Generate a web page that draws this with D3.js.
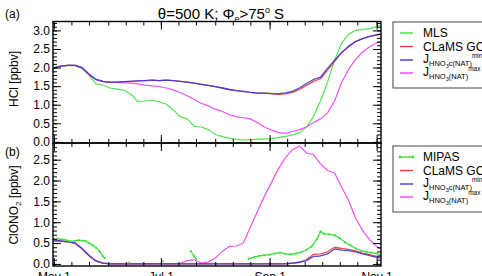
<!DOCTYPE html>
<html>
<head>
<meta charset="utf-8">
<script src="https://cdn.jsdelivr.net/npm/d3@7"></script>
<style>
  body { margin: 0; background: #fff; }
  svg { font-family: "Liberation Sans", Arial, sans-serif; }
</style>
</head>
<body>
<div id="chart"></div>
<script>
// days after May 1 for the model / MLS curves
const days = [0,4,8,12,16,20,24,28,32,36,40,44,48,52,56,60,64,68,72,76,80,84,88,92,
  96,100,104,108,112,116,120,124,128,132,136,140,144,148,152,156,160,164,168,172,176,180,184,186];

// panel (a) HCl [ppbv]
const hclMLS = [1.99,2.04,2.06,2.05,1.98,1.80,1.56,1.53,1.45,1.42,1.39,1.28,1.08,1.10,1.12,1.08,1.02,0.86,0.68,0.62,
  0.42,0.40,0.33,0.20,0.14,0.10,0.07,0.05,0.06,0.07,0.08,0.09,0.12,0.15,0.19,0.25,0.40,0.68,1.10,1.60,
  2.20,2.65,2.90,3.00,3.03,3.05,3.10,3.15];
const hclClams = [1.99,2.04,2.06,2.06,2.00,1.82,1.68,1.63,1.60,1.61,1.62,1.63,1.64,1.65,1.66,1.65,1.66,1.65,1.63,1.61,
  1.58,1.55,1.52,1.49,1.45,1.41,1.38,1.36,1.33,1.31,1.31,1.30,1.28,1.29,1.33,1.41,1.52,1.63,1.70,1.93,
  2.16,2.40,2.57,2.70,2.78,2.84,2.88,2.90];
const hclJmin = [1.99,2.04,2.06,2.06,2.00,1.82,1.68,1.63,1.60,1.61,1.62,1.63,1.64,1.65,1.66,1.65,1.66,1.65,1.63,1.61,
  1.58,1.55,1.52,1.49,1.45,1.41,1.38,1.36,1.33,1.31,1.31,1.30,1.30,1.32,1.36,1.45,1.57,1.68,1.74,1.98,
  2.20,2.40,2.57,2.70,2.78,2.84,2.88,2.90];
const hclJmax = [1.99,2.04,2.06,2.06,2.00,1.82,1.68,1.62,1.60,1.60,1.59,1.58,1.56,1.53,1.51,1.49,1.45,1.40,1.33,1.24,
  1.14,1.04,0.97,0.88,0.82,0.73,0.68,0.65,0.62,0.52,0.40,0.32,0.25,0.23,0.28,0.33,0.40,0.52,0.62,0.78,
  1.10,1.60,1.95,2.22,2.42,2.56,2.66,2.70];

// panel (b) ClONO2 [ppbv]
const clClams = [0.56,0.55,0.53,0.50,0.37,0.20,0.07,0.02,0,0,0,0,0,0,0,0,0,0,0,0,
  0,0,0,0,0,0,0,0,0,0,0,0,0,0,0.02,0.04,0.10,0.23,0.24,0.29,
  0.40,0.37,0.35,0.31,0.26,0.22,0.18,0.16];
const clJmin = [0.56,0.55,0.53,0.50,0.37,0.20,0.07,0.02,0,0,0,0,0,0,0,0,0,0,0,0,
  0,0,0,0,0,0,0,0,0,0,0,0,0,0,0.02,0.04,0.08,0.18,0.19,0.24,
  0.36,0.33,0.32,0.29,0.24,0.20,0.16,0.14];
const clJmax = [0.56,0.55,0.53,0.50,0.37,0.20,0.07,0.02,0,0,0,0,0,0,0,0.01,0,0,0.01,0.08,
  0.10,0.02,0.05,0.14,0.30,0.42,0.43,0.50,0.88,1.25,1.62,1.95,2.28,2.55,2.74,2.83,2.66,2.62,2.40,2.24,
  2.18,1.85,1.52,1.10,0.80,0.58,0.42,0.36];

// MIPAS, null = no data
const mipasDays = [0,2,4,6,8,10,12,14,16,18,20,22,24,26,28,29, 36, 43, 50, 62, 70, 78,80,81, 95,
  111,114,117,120,123,126,129,132,135,138,141,144,147,150,152,154,157,160,163,166,169,172,175,178,181,184,186];
const mipasVals = [0.59,0.60,0.59,0.58,0.56,0.54,0.55,0.57,0.56,0.55,0.50,0.45,0.39,0.30,0.18,0.14, null, 0.03, null, 0.06, null, 0.31,0.18,0.12, null,
  0.12,0.16,0.19,0.21,0.22,0.25,0.27,0.24,0.23,0.25,0.28,0.34,0.42,0.60,0.78,0.72,0.71,0.69,0.62,0.52,0.45,0.37,0.32,0.29,0.27,0.25,0.22];

const xTickLabels = ['May 1', 'Jul 1', 'Sep 1', 'Nov 1'];

const GREEN = '#3ee03e', RED = '#ee3a3a', BLUE = '#3b3bd0', MAGENTA = '#f03cf0';

const svg = d3.select('#chart').append('svg')
  .attr('width', 482).attr('height', 276);

const may1 = new Date(2009, 4, 1);
const toDate = d => d3.timeHour.offset(may1, d * 24);

const x = d3.scaleTime()
  .domain([toDate(-0.5), toDate(186.5)])
  .range([53, 381]);

const ya = d3.scaleLinear().domain([-0.03, 3.24]).range([143, 21.5]);
const yb = d3.scaleLinear().domain([-0.05, 2.9]).range([266, 143]);

// clip paths
const defs = svg.append('defs');
[['clipA', ya], ['clipB', yb]].forEach(([id, y]) => {
  defs.append('clipPath').attr('id', id).append('rect')
    .attr('x', 53).attr('y', y.range()[1])
    .attr('width', 328).attr('height', y.range()[0] - y.range()[1]);
});

function drawSeries(y, clip, vals, color, width) {
  const pts = days.map((d, i) => ({ d: d, v: vals[i] }));
  svg.append('path')
    .datum(pts)
    .attr('clip-path', `url(#${clip})`)
    .attr('fill', 'none')
    .attr('stroke', color)
    .attr('stroke-width', width)
    .attr('stroke-linejoin', 'round')
    .attr('stroke-opacity', 0.9)
    .attr('d', d3.line().x(p => x(toDate(p.d))).y(p => y(p.v)));
}

// month ticks: 1, 11, 21 of each month
const minorDates = [];
for (let m = 4; m <= 10; m++) {
  [1, 11, 21].forEach(dd => {
    const t = new Date(2009, m, dd);
    if (t >= x.domain()[0] && t <= x.domain()[1]) minorDates.push(t);
  });
}
const majorDates = [new Date(2009, 4, 1), new Date(2009, 6, 1), new Date(2009, 8, 1), new Date(2009, 10, 1)];

function drawFrame(y, majorVals, showXLabels) {
  const top = y.range()[1], bot = y.range()[0];
  const g = svg.append('g');
  const minorVals = d3.range(0, d3.max(majorVals) + 0.35, 0.1).filter(v => v <= y.domain()[1]);

  // y axis left
  g.append('g').attr('transform', 'translate(53,0)')
    .call(d3.axisLeft(y).tickValues(minorVals).tickSize(-4).tickFormat(''))
    .call(a => a.select('.domain').remove());
  g.append('g').attr('transform', 'translate(53,0)')
    .call(d3.axisLeft(y).tickValues(majorVals).tickSize(-8).tickPadding(3).tickFormat(d3.format('.1f')))
    .call(a => a.select('.domain').remove())
    .call(a => a.selectAll('text').attr('font-size', 12).attr('font-family', '"Liberation Sans", Arial, sans-serif').attr('fill', '#000'));
  // y axis right
  g.append('g').attr('transform', 'translate(381,0)')
    .call(d3.axisRight(y).tickValues(minorVals).tickSize(-4).tickFormat(''))
    .call(a => a.select('.domain').remove());
  g.append('g').attr('transform', 'translate(381,0)')
    .call(d3.axisRight(y).tickValues(majorVals).tickSize(-8).tickFormat(''))
    .call(a => a.select('.domain').remove());
  // x axis bottom / top
  [[bot, d3.axisBottom], [top, d3.axisTop]].forEach(([yy, ax]) => {
    g.append('g').attr('transform', `translate(0,${yy})`)
      .call(ax(x).tickValues(minorDates).tickSize(-4).tickFormat(''))
      .call(a => a.select('.domain').remove());
    g.append('g').attr('transform', `translate(0,${yy})`)
      .call(ax(x).tickValues(majorDates).tickSize(-8).tickFormat(''))
      .call(a => a.select('.domain').remove());
  });
  if (showXLabels) {
    g.append('g').attr('transform', `translate(0,${bot})`)
      .call(d3.axisBottom(x).tickValues(majorDates).tickSize(0).tickPadding(6)
        .tickFormat((d, i) => xTickLabels[i]))
      .call(a => a.select('.domain').remove())
      .call(a => a.selectAll('text').attr('font-size', 12).attr('font-family', '"Liberation Sans", Arial, sans-serif').attr('fill', '#000'));
  }
  g.selectAll('.tick line').attr('stroke', '#000').attr('stroke-width', 1);
  g.append('rect')
    .attr('x', 53).attr('y', top).attr('width', 328).attr('height', bot - top)
    .attr('fill', 'none').attr('stroke', '#000').attr('stroke-width', 1.4);
}

// panel (a)
drawSeries(ya, 'clipA', hclMLS, GREEN, 1.2);
drawSeries(ya, 'clipA', hclClams, RED, 1.3);
drawSeries(ya, 'clipA', hclJmax, MAGENTA, 1.2);
drawSeries(ya, 'clipA', hclJmin, BLUE, 1.3);

// panel (b)
drawSeries(yb, 'clipB', clJmax, MAGENTA, 1.2);
drawSeries(yb, 'clipB', clClams, RED, 1.3);
drawSeries(yb, 'clipB', clJmin, BLUE, 1.3);

const mipas = mipasDays.map((d, i) => ({ d: d, v: mipasVals[i] }));
svg.append('path')
  .datum(mipas)
  .attr('clip-path', 'url(#clipB)')
  .attr('fill', 'none').attr('stroke', GREEN).attr('stroke-width', 1.3)
  .attr('d', d3.line().defined(p => p.v !== null).x(p => x(toDate(p.d))).y(p => yb(p.v)));
svg.append('g').attr('clip-path', 'url(#clipB)')
  .selectAll('circle').data(mipas.filter(p => p.v !== null)).join('circle')
  .attr('cx', p => x(toDate(p.d))).attr('cy', p => yb(p.v))
  .attr('r', 1.1).attr('fill', GREEN);

drawFrame(ya, [0, 0.5, 1, 1.5, 2, 2.5, 3], false);
drawFrame(yb, [0, 0.5, 1, 1.5, 2, 2.5], true);

// titles
const title = svg.append('text').attr('x', 221).attr('y', 19)
  .attr('text-anchor', 'middle').attr('font-size', 15);
title.append('tspan').text('θ=500 K; Φ');
title.append('tspan').attr('font-size', 9).attr('dy', 3).text('e');
title.append('tspan').attr('dy', -3).text('>75');
title.append('tspan').attr('font-size', 9).attr('dy', -6).text('o');
title.append('tspan').attr('dy', 6).text(' S');

svg.append('text').attr('x', 5).attr('y', 18).attr('font-size', 12).text('(a)');
svg.append('text').attr('x', 5).attr('y', 156).attr('font-size', 12).text('(b)');

svg.append('text').attr('transform', 'translate(18,79) rotate(-90)')
  .attr('text-anchor', 'middle').attr('font-size', 12).text('HCl [ppbv]');
const yt = svg.append('text').attr('transform', 'translate(18,205) rotate(-90)')
  .attr('text-anchor', 'middle').attr('font-size', 12);
yt.append('tspan').text('ClONO');
yt.append('tspan').attr('font-size', 8).attr('dy', 3).text('2');
yt.append('tspan').attr('dy', -3).text(' [ppbv]');

// legends
function jLabel(g, xx, yy, sub, sup) {
  const t = g.append('text').attr('x', xx).attr('y', yy).attr('font-size', 12);
  t.append('tspan').text('J');
  t.append('tspan').attr('font-size', 7.5).attr('dy', 3).text('HNO');
  t.append('tspan').attr('font-size', 5.5).attr('dy', 1.5).text('3');
  t.append('tspan').attr('font-size', 7.5).attr('dy', -1.5).text(sub);
  t.append('tspan').attr('font-size', 6.5).attr('dy', -8).text(sup);
}

function legend(top, firstLabel, firstMarkers) {
  const g = svg.append('g');
  g.append('rect').attr('x', 393).attr('y', top).attr('width', 120).attr('height', 66)
    .attr('fill', '#fff').attr('stroke', '#444').attr('stroke-width', 1);
  const rows = [top + 11, top + 24.5, top + 38, top + 51];
  const cols = [GREEN, RED, BLUE, MAGENTA];
  rows.forEach((ry, i) => {
    g.append('line').attr('x1', 400).attr('x2', 413).attr('y1', ry).attr('y2', ry)
      .attr('stroke', cols[i]).attr('stroke-width', 1.4);
  });
  if (firstMarkers) {
    [400, 413].forEach(cx => g.append('circle').attr('cx', cx).attr('cy', rows[0]).attr('r', 1.4).attr('fill', GREEN));
  }
  g.append('text').attr('x', 423).attr('y', rows[0] + 4).attr('font-size', 12).text(firstLabel);
  g.append('text').attr('x', 423).attr('y', rows[1] + 4).attr('font-size', 12).text('CLaMS GC');
  jLabel(g, 423, rows[2] + 3, 'c(NAT)', 'min');
  jLabel(g, 423, rows[3] + 3, '(NAT)', 'max');
}
legend(22, 'MLS', false);
legend(146, 'MIPAS', true);
</script>
</body>
</html>
